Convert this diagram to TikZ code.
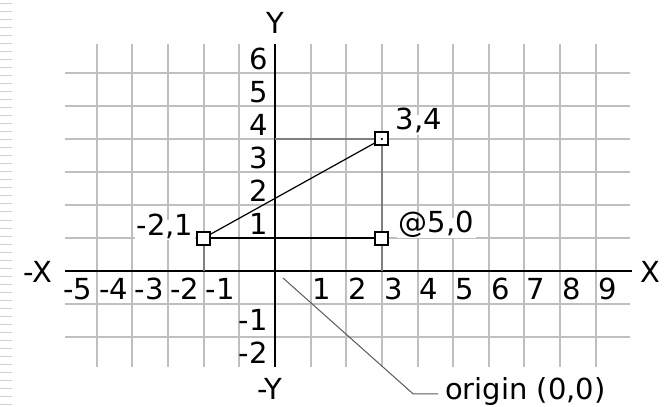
\documentclass[tikz,border=0pt]{standalone}
\usepackage{fontspec}
\setmainfont{DejaVu Sans}
\usetikzlibrary{positioning}

\begin{document}
\begin{tikzpicture}[x=35.64pt,y=33pt,
  gridln/.style={gray!50,line width=2pt},
  axisln/.style={black,line width=2.2pt},
  guide/.style={gray,line width=1.6pt},
  numlbl/.style={inner sep=0pt,font=\fontsize{29}{32}\selectfont},
  ptbox/.style={draw,fill=white,line width=2pt,minimum size=13pt,inner sep=0pt},
  ptlbl/.style={fill=white,inner xsep=2pt,inner ysep=4pt,text height=1.1em,
                text depth=0.1em,anchor=base,font=\fontsize{29}{32}\selectfont}]
  \useasboundingbox (-7.716,-4.121) rectangle (11.139,8.212);
  % page edge
  \foreach \k in {0,...,50}
    \draw[gray!35,line width=1pt] (-7.716,{(267-8*\k)/33}) -- ++(12pt,0);
  % grid
  \foreach \v in {-2,-1,1,2,...,6}
    \draw[gridln] (-5.89,\v) -- (9.96,\v);
  \foreach \u in {-5,...,-1,1,2,...,9}
    \draw[gridln] (\u,-2.91) -- (\u,6.88);
  % axes
  \coordinate (O) at (0,0);
  \coordinate (xl) at (-5.89,0);
  \coordinate (xr) at (10.02,0);
  \coordinate (yt) at (0,6.88);
  \coordinate (yb) at (0,-2.91);
  \draw[axisln] (xl) -- (xr);
  \draw[axisln] (yb) -- (yt);
  \node[numlbl,anchor=base] (lx) at (10.52,-0.36) {X};
  \node[numlbl,anchor=base] (lmx) at (-6.65,-0.36) {-X};
  \node[numlbl,anchor=base] (ly) at (0,7.21) {Y};
  \node[numlbl,anchor=base] (lmy) at (-0.14,-3.88) {-Y};
  \foreach \n in {1,...,9}
    \node[numlbl,anchor=base west] (tx\n) at (\n+0.06,-0.85) {\n};
  \foreach \n in {-5,...,-1}
    \node[numlbl,anchor=base east] (tx\n) at (\n-0.12,-0.85) {\n};
  \foreach \n in {1,...,6}
    \node[numlbl,anchor=base east] (ty\n) at (-0.2,\n+0.1) {\n};
  \foreach \n in {-1,-2}
    \node[numlbl,anchor=base east] (ty\n) at (-0.2,\n-0.8) {\n};
  % points
  \coordinate (A) at (-2,1);
  \coordinate (B) at (3,4);
  \coordinate (C) at (3,1);
  \draw[guide] (O |- B) -- (B) -- (B |- O);
  \draw[guide] (A) -- (A |- O);
  \draw[line width=2.2pt] (A) -- (C);
  \draw[line width=1.2pt] (A) -- (B);
  \node[ptlbl] (la) at (-3.086,1.09) {-2,1};
  \node[ptlbl] (lb) at (4.04,4.273) {3,4};
  \node[ptlbl] (lc) at (4.53,1.152) {@5,0};
  \node[ptbox] (pa) at (A) {};
  \node[ptbox] (pb) at (B) {};
  \node[ptbox] (pc) at (C) {};
  \fill (pb) circle (1.2pt);
  % origin note
  \node[numlbl,anchor=base west] (orig) at (4.77,-3.9) {origin (0,0)};
  \coordinate (lead) at (0.224,-0.212);
  \coordinate (knee) at (3.872,-3.72);
  \coordinate (tail) at (4.574,-3.72);
  \draw[gray!70!black,line width=1pt] (lead) -- (knee) -- (tail);
\end{tikzpicture}
\end{document}
